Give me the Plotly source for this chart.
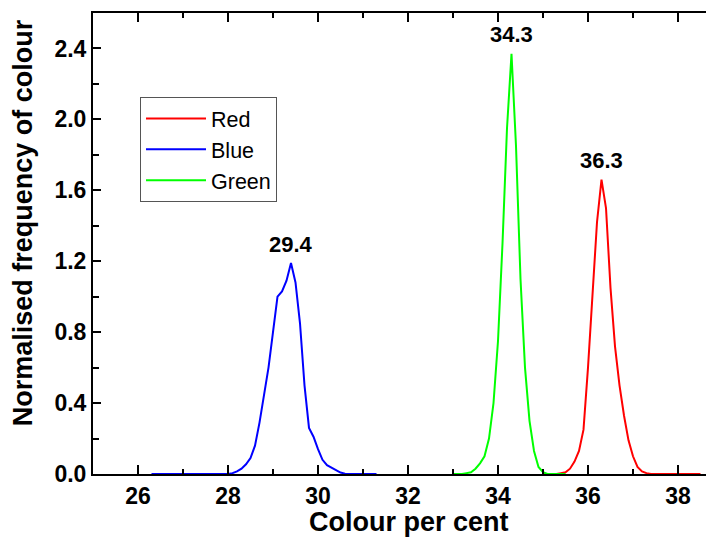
import plotly.graph_objects as go

# ---- data ----
blue_x = [26.3, 26.5, 27.0, 27.5, 27.9, 28.0, 28.1, 28.2, 28.3, 28.4, 28.5, 28.6, 28.7, 28.8, 28.9,
          29.0, 29.1, 29.2, 29.3, 29.4, 29.5, 29.6, 29.7, 29.8, 29.9, 30.0, 30.1, 30.2, 30.3,
          30.4, 30.5, 30.6, 30.7, 31.0, 31.3]
blue_y = [0, 0, 0, 0, 0, 0.0, 0.005, 0.015, 0.03, 0.055, 0.09, 0.16, 0.29, 0.45, 0.6,
          0.8, 1.0, 1.03, 1.09, 1.19, 1.08, 0.85, 0.5, 0.26, 0.21, 0.14, 0.08, 0.05, 0.035,
          0.02, 0.008, 0.002, 0, 0, 0]

green_x = [33.0, 33.1, 33.2, 33.3, 33.4, 33.5, 33.6, 33.7, 33.8, 33.9, 34.0, 34.1, 34.2, 34.3,
           34.4, 34.5, 34.6, 34.7, 34.8, 34.9, 35.0, 35.1, 35.2, 35.3, 35.4, 35.5]
green_y = [0, 0, 0, 0.005, 0.01, 0.03, 0.06, 0.1, 0.2, 0.4, 0.75, 1.3, 1.95, 2.37,
           1.85, 1.1, 0.6, 0.3, 0.13, 0.04, 0.01, 0, 0, 0, 0, 0]

red_x = [35.0, 35.1, 35.2, 35.3, 35.4, 35.5, 35.6, 35.7, 35.8, 35.9, 36.0, 36.1, 36.2, 36.3,
         36.4, 36.5, 36.6, 36.7, 36.8, 36.9, 37.0, 37.1, 37.2, 37.3, 37.4, 37.6, 38.0, 38.5]
red_y = [0, 0, 0, 0, 0.005, 0.01, 0.03, 0.07, 0.13, 0.25, 0.6, 1.0, 1.42, 1.66,
         1.5, 1.05, 0.72, 0.5, 0.33, 0.19, 0.1, 0.04, 0.015, 0.005, 0, 0, 0, 0]

peak_x = [29.4, 34.3, 36.3]
peak_y = [1.19, 2.37, 1.66]
peak_labels = ["29.4", "34.3", "36.3"]

x_tick_vals = [26, 28, 30, 32, 34, 36, 38]
y_tick_vals = [0.0, 0.4, 0.8, 1.2, 1.6, 2.0, 2.4]
y_tick_text = ["0.0", "0.4", "0.8", "1.2", "1.6", "2.0", "2.4"]

FONT = "Liberation Sans, Arial, sans-serif"

fig = go.Figure()
fig.add_trace(go.Scatter(x=red_x, y=red_y, mode="lines", name="Red",
                         line=dict(color="#ff0000", width=2)))
fig.add_trace(go.Scatter(x=blue_x, y=blue_y, mode="lines", name="Blue",
                         line=dict(color="#0000ff", width=2)))
fig.add_trace(go.Scatter(x=green_x, y=green_y, mode="lines", name="Green",
                         line=dict(color="#00ff00", width=2)))

for px, py, t in zip(peak_x, peak_y, peak_labels):
    fig.add_annotation(x=px, y=py, text=t, showarrow=False, yshift=19,
                       font=dict(family=FONT, size=22, color="black", weight="bold"))

fig.add_annotation(xref="paper", yref="paper", x=0.509, y=-0.104, text="Colour per cent",
                   showarrow=False, xanchor="center", yanchor="middle",
                   font=dict(family=FONT, size=27, color="black", weight="bold"))
fig.add_annotation(xref="paper", yref="paper", x=-0.1127, y=0.544,
                   text="Normalised frequency of colour", textangle=-90,
                   showarrow=False, xanchor="center", yanchor="middle",
                   font=dict(family=FONT, size=27, color="black", weight="bold"))

fig.update_layout(
    width=706, height=533,
    margin=dict(l=85, r=0, t=5, b=67),
    paper_bgcolor="white", plot_bgcolor="white",
    showlegend=True,
    legend=dict(x=0.0757, y=0.818, xanchor="left", yanchor="top",
                bordercolor="#555555", borderwidth=1, bgcolor="white",
                font=dict(family=FONT, size=21.5, color="black"),
                itemwidth=60, tracegroupgap=0),
    xaxis=dict(range=[25, 38.8], showgrid=False, zeroline=False,
               showline=True, linecolor="black", linewidth=2, mirror="ticks",
               ticks="inside", ticklen=9, tickwidth=2, tickcolor="black",
               tickvals=x_tick_vals,
               tickfont=dict(family=FONT, size=23, color="black", weight="bold"),
               minor=dict(ticks="inside", ticklen=5, tickwidth=2, tickcolor="black", dtick=1, tick0=25)),
    yaxis=dict(range=[0, 2.6], showgrid=False, zeroline=False,
               showline=True, linecolor="black", linewidth=2, mirror=False,
               ticks="inside", ticklen=8, tickwidth=2, tickcolor="black",
               tickvals=y_tick_vals, ticktext=y_tick_text,
               tickfont=dict(family=FONT, size=23, color="black", weight="bold"),
               minor=dict(ticks="inside", ticklen=6, tickwidth=2, tickcolor="black", dtick=0.2, tick0=0)),
)

fig.write_html("out.html")
